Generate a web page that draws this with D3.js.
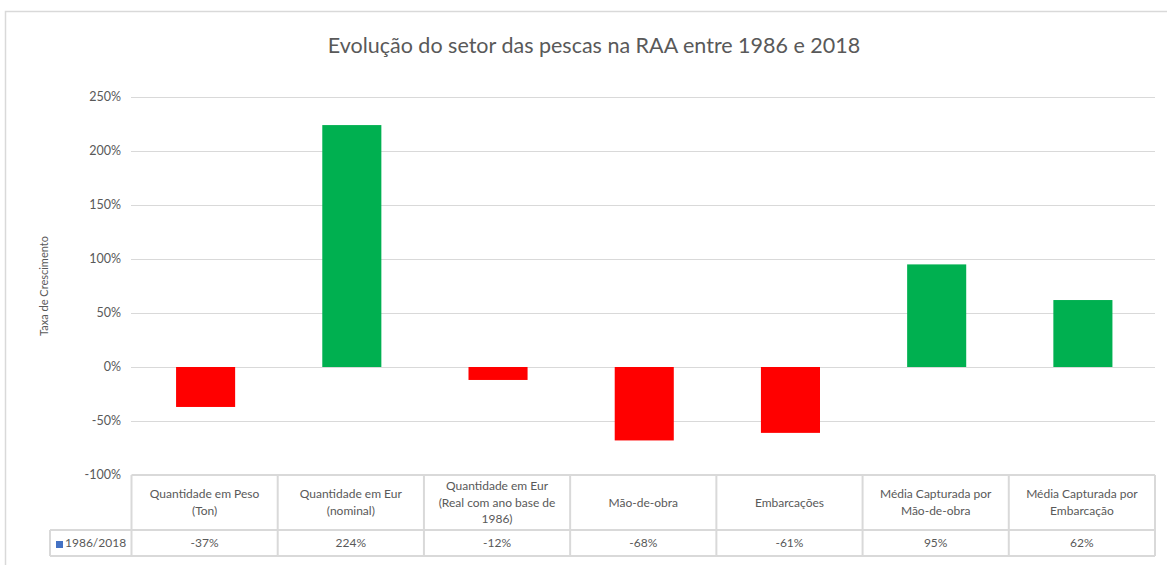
<!DOCTYPE html>
<html><head><meta charset="utf-8">
<script src="https://cdn.jsdelivr.net/npm/d3@7"></script>
<style>
html,body{margin:0;padding:0;background:#fff;}
svg{display:block;font-family:Lato,"Open Sans",sans-serif;}
</style></head>
<body>
<svg id="c" width="1167" height="565"></svg>
<script>
const title = "Evolução do setor das pescas na RAA entre 1986 e 2018";
const categories = [
  ["Quantidade em Peso","(Ton)"],
  ["Quantidade em Eur","(nominal)"],
  ["Quantidade em Eur","(Real com ano base de","1986)"],
  ["Mão-de-obra"],
  ["Embarcações"],
  ["Média Capturada por","Mão-de-obra"],
  ["Média Capturada por","Embarcação"]
];
const seriesName = "1986/2018";
const values = [-0.37, 2.24, -0.12, -0.68, -0.61, 0.95, 0.62];
const tickValues = [-1, -0.5, 0, 0.5, 1, 1.5, 2, 2.5];
const yLabel = "Taxa de Crescimento";

const svg = d3.select("#c");
const grid = "#d9d9d9", txt = "#595959";

// outer chart border
svg.append("rect").attr("x",5.5).attr("y",11.5).attr("width",1200).attr("height",700)
  .attr("fill","none").attr("stroke",grid).attr("stroke-width",1.5);

const x = d3.scaleBand().domain(d3.range(categories.length)).range([131.5, 1155]).padding(0);
const y = d3.scaleLinear().domain([-1, 2.5]).range([475, 97]);

svg.append("text").attr("x", 594).attr("y", 53).attr("text-anchor","middle")
  .attr("fill", txt).attr("font-size", 21.5).text(title);

// gridlines
svg.append("g").selectAll("line").data(tickValues.filter(t => t > -1)).join("line")
  .attr("x1", 131).attr("x2", 1155)
  .attr("y1", d => Math.round(y(d)) + 0.5).attr("y2", d => Math.round(y(d)) + 0.5)
  .attr("stroke", grid).attr("stroke-width", 1);

// y tick labels
const f0 = d3.format(".0%");
const fmt = d => f0(d).replace("\u2212", "-");
svg.append("g").selectAll("text").data(tickValues).join("text")
  .attr("x", 121).attr("y", d => y(d) + 4).attr("text-anchor","end")
  .attr("fill", txt).attr("font-size", 12.5).text(d => fmt(d));

svg.append("text").attr("transform", `translate(48,${y(0.75)}) rotate(-90)`)
  .attr("text-anchor","middle").attr("fill", txt).attr("font-size", 11).text(yLabel);

// bars
const bw = x.bandwidth() * 0.404;
svg.append("g").selectAll("rect").data(values).join("rect")
  .attr("x", (d,i) => x(i) + x.bandwidth()/2 - bw/2 + 1)
  .attr("width", bw)
  .attr("y", d => y(Math.max(0,d)))
  .attr("height", d => Math.abs(y(d) - y(0)))
  .attr("fill", d => d >= 0 ? "#00b050" : "#ff0000");

// data table
const tTop = 475, tMid = 530, tBot = 556, legLeft = 50;
const tb = svg.append("g").attr("stroke", grid).attr("stroke-width", 2).attr("fill","none");
tb.append("line").attr("x1", x(0)).attr("x2", 1155).attr("y1", tTop).attr("y2", tTop);
tb.append("line").attr("x1", legLeft).attr("x2", 1155).attr("y1", tMid).attr("y2", tMid);
tb.append("line").attr("x1", legLeft).attr("x2", 1155).attr("y1", tBot).attr("y2", tBot);
tb.append("line").attr("x1", legLeft).attr("x2", legLeft).attr("y1", tMid).attr("y2", tBot);
const bounds = d3.range(categories.length).map(i => x(i)).concat([1155]);
tb.selectAll("line.v").data(bounds).join("line").attr("class","v")
  .attr("x1", d => d).attr("x2", d => d).attr("y1", tTop).attr("y2", tBot);

const hdr = svg.append("g").attr("fill", txt).attr("font-size", 12).attr("text-anchor","middle");
categories.forEach((lines, i) => {
  const cx = x(i) + x.bandwidth()/2;
  const cy = (tTop + tMid)/2;
  const lh = 16.5;
  lines.forEach((ln, j) => {
    hdr.append("text").attr("x", cx)
      .attr("y", cy + (j - (lines.length-1)/2) * lh + 4).text(ln);
  });
});
svg.append("g").selectAll("text").data(values).join("text")
  .attr("x", (d,i) => x(i) + x.bandwidth()/2).attr("y", (tMid+tBot)/2 + 4)
  .attr("text-anchor","middle").attr("fill", txt).attr("font-size", 12).text(d => fmt(d));

svg.append("rect").attr("x", 56).attr("y", 541).attr("width", 7).attr("height", 7).attr("fill", "#4472c4");
svg.append("text").attr("x", 65).attr("y", 547).attr("fill", txt).attr("font-size", 12).text(seriesName);
</script>
</body></html>
